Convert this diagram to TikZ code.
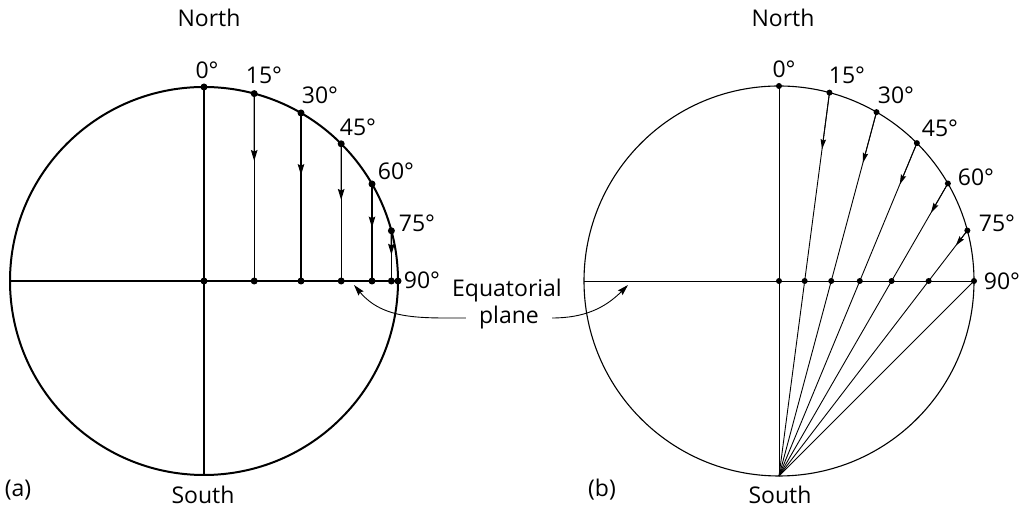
\documentclass[tikz,border=0pt]{standalone}
\usepackage{fontspec}
\setmainfont{Open Sans}
\usetikzlibrary{positioning,arrows.meta,calc}

\begin{document}
\begin{tikzpicture}[x=1pt,y=1pt,>={Stealth[length=11pt,width=6.5pt,inset=1.5pt]},
  dot/.style={circle,fill=black,inner sep=0pt,minimum size=7pt},
  small dot/.style={circle,fill=black,inner sep=0pt,minimum size=6pt},
  lbl/.style={font=\fontsize{23}{27}\selectfont,inner sep=0pt},
  heavy/.style={line width=1.3pt},
  light/.style={line width=0.9pt}]
  \useasboundingbox (0,0) rectangle (1026,513);

  % (a) orthographic
  \coordinate (ca) at (204,232);
  \coordinate (aN) at ($(ca)+(0,194)$);
  \coordinate (aS) at ($(ca)+(0,-194)$);
  \coordinate (aW) at ($(ca)+(-194,0)$);
  \coordinate (aE) at ($(ca)+(194,0)$);
  \draw[line width=2pt] (ca) circle[radius=194];
  \draw[heavy] (aW) -- (aE);
  \draw[heavy] (aN) -- (aS);
  \foreach \a/\f/\lx/\ly in {15/.36/264/438,30/.37/320/418,45/.41/358/386,
                             60/.45/396/342,75/.48/417/290} {
    \coordinate (at\a) at ($(ca)+(90-\a:194)$);
    \coordinate (ae\a) at ($(ca)+({194*sin(\a)},0)$);
    \draw[heavy] (at\a) -- (ae\a);
    \draw[heavy,->] (at\a) -- ($(at\a)!\f!(ae\a)$);
    \node[dot] (adt\a) at (at\a) {};
    \node[dot] (ade\a) at (ae\a) {};
    \node[lbl] (al\a) at (\lx,\ly) {\a°};
  }
  \node[dot] (adN) at (aN) {};
  \node[dot] (adC) at (ca) {};
  \node[dot] (adE) at (aE) {};
  \node[lbl] (al0) at (207,443) {0°};
  \node[lbl] (al90) at (422,233) {90°};
  \node[lbl] (anorth) at (209,495) {North};
  \node[lbl] (asouth) at (203,18) {South};
  \node[lbl] (atag) at (18,23) {(a)};

  % (b) stereographic
  \coordinate (cb) at (779,232);
  \coordinate (bN) at ($(cb)+(0,195)$);
  \coordinate (bS) at ($(cb)+(0,-195)$);
  \coordinate (bW) at ($(cb)+(-195,0)$);
  \coordinate (bE) at ($(cb)+(195,0)$);
  \draw[line width=1.1pt] (cb) circle[radius=195];
  \draw[light] (bW) -- (bE);
  \draw[light] (bN) -- (bS);
  \draw[light] (bE) -- (bS);
  \foreach \a/\lx/\ly in {15/847/438,30/896/418,45/940/385,
                          60/976/336,75/997/290} {
    \coordinate (bt\a) at ($(cb)+(90-\a:195)$);
    \coordinate (be\a) at ($(cb)+({195*tan(\a/2)},0)$);
    \draw[light] (bt\a) -- (bS);
    \draw[light,-{Stealth[length=10pt,width=5.5pt,inset=1.5pt]}] (bt\a) -- ($(bt\a)!.3!(be\a)$);
    \node[small dot] (bdt\a) at (bt\a) {};
    \node[small dot] (bde\a) at (be\a) {};
    \node[lbl] (bl\a) at (\lx,\ly) {\a°};
  }
  \node[small dot] (bdN) at (bN) {};
  \node[small dot] (bdC) at (cb) {};
  \node[small dot] (bdE) at (bE) {};
  \node[lbl] (bl0) at (784,444) {0°};
  \node[lbl] (bl90) at (1002,232) {90°};
  \node[lbl] (bnorth) at (783,495) {North};
  \node[lbl] (bsouth) at (780,18) {South};
  \node[lbl] (btag) at (602,23) {(b)};

  % equatorial plane callout
  \node[lbl] (eq) at (507,222) {Equatorial};
  \node[lbl,inner xsep=13pt] (pl) at (509,195) {plane};
  \coordinate (aeq) at (354,228);
  \coordinate (beq) at (628,228);
  \draw[light,->] (pl.west) to[out=180,in=-50] (aeq);
  \draw[light,->] (pl.east) to[out=0,in=-135] (beq);
\end{tikzpicture}
\end{document}
